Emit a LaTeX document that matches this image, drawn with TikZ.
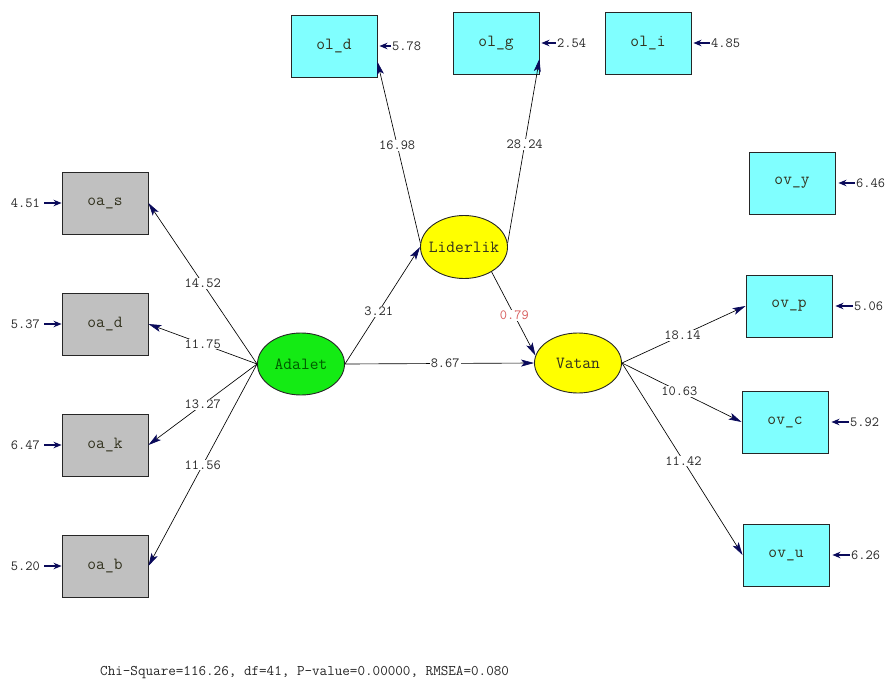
\documentclass[tikz,border=0pt]{standalone}
\usepackage{fontspec}
\usetikzlibrary{arrows.meta,shapes.geometric}
\definecolor{boxcyan}{RGB}{128,255,255}
\definecolor{boxgray}{RGB}{192,192,192}
\definecolor{latgreen}{RGB}{20,235,20}
\definecolor{latyellow}{RGB}{255,255,0}
\definecolor{navyarrow}{RGB}{10,10,90}
\definecolor{labred}{RGB}{215,90,90}
\definecolor{txtgreen}{RGB}{0,90,0}
\definecolor{txtdark}{RGB}{50,50,30}
\tikzset{
  obs/.style={draw=black!85, line width=0.9pt, rectangle, minimum width=86pt, minimum height=62pt, inner sep=0pt, font=\ttfamily\fontsize{17}{19}\selectfont, text=txtdark},
  cyanbox/.style={obs, fill=boxcyan},
  graybox/.style={obs, fill=boxgray},
  latent/.style={draw=black!85, line width=0.9pt, ellipse, minimum width=87pt, minimum height=62pt, inner sep=0pt, font=\ttfamily\fontsize{17}{19}\selectfont},
  path/.style={draw=black, line width=0.65pt, -{Stealth[length=13pt,width=7pt,inset=3pt,color=navyarrow]}},
  elab/.style={fill=white, inner sep=1pt, font=\ttfamily\fontsize{14}{16}\selectfont, text=black!85},
  errlab/.style={inner sep=0pt, font=\ttfamily\fontsize{14}{16}\selectfont, text=black!85},
  errarrow/.style={draw=navyarrow, line width=1.4pt, -{Stealth[length=8pt,width=6.5pt]}}
}
\begin{document}
\begin{tikzpicture}[x=1pt,y=-1pt]
\path[use as bounding box] (0,0) rectangle (892,688);
% observed variables
\node[cyanbox] (old) at (334,46) {ol\_d};
\node[cyanbox] (olg) at (496,43) {ol\_g};
\node[cyanbox] (oli) at (648,43) {ol\_i};
\node[graybox] (oas) at (105,203) {oa\_s};
\node[graybox] (oad) at (105,324) {oa\_d};
\node[graybox] (oak) at (105,445) {oa\_k};
\node[graybox] (oab) at (105,566) {oa\_b};
\node[cyanbox] (ovy) at (792,183) {ov\_y};
\node[cyanbox] (ovp) at (789,306) {ov\_p};
\node[cyanbox] (ovc) at (785,422) {ov\_c};
\node[cyanbox] (ovu) at (786,555) {ov\_u};
% latent variables
\node[latent, fill=latgreen, text=txtgreen] (adalet) at (301,364) {\makebox[0pt]{Adalet}};
\node[latent, fill=latyellow, text=txtdark, minimum height=63pt] (lider) at (464,247) {\makebox[0pt]{Liderlik}};
\node[latent, fill=latyellow, text=txtdark, minimum height=60pt] (vatan) at (578,363) {\makebox[0pt]{Vatan}};
% paths
\draw[path] (adalet.west) -- node[elab,pos=0.5] {14.52} (oas.east);
\draw[path] (adalet.west) -- node[elab,pos=0.5] {11.75} (oad.east);
\draw[path] (adalet.west) -- node[elab,pos=0.5] {13.27} (oak.east);
\draw[path] (adalet.west) -- node[elab,pos=0.5] {11.56} (oab.east);
\draw[path] (adalet.east) -- node[elab,pos=0.45] {3.21} (lider.west);
\draw[path] (adalet.east) -- node[elab,pos=0.53] {8.67} (vatan.west);
\draw[path] (lider.175) -- node[elab,pos=0.54] {16.98} (old.-20);
\draw[path] (lider.5) -- node[elab,pos=0.535] {28.24} (olg.-20);
\draw[path] (lider.-42) -- node[elab,pos=0.52,text=labred] {0.79} (vatan.170);
\draw[path] (vatan.east) -- node[elab,pos=0.49] {18.14} (ovp.west);
\draw[path] (vatan.east) -- node[elab,pos=0.48] {10.63} (ovc.west);
\draw[path] (vatan.east) -- node[elab,pos=0.51] {11.42} (ovu.west);
% error terms
\node[errlab, anchor=east] (e1) at (40,203) {4.51};
\node[errlab, anchor=east] (e2) at (40,324) {5.37};
\node[errlab, anchor=east] (e3) at (40,445) {6.47};
\node[errlab, anchor=east] (e4) at (40,566) {5.20};
\draw[errarrow] (e1.east) ++(4,0) -- (oas.west);
\draw[errarrow] (e2.east) ++(4,0) -- (oad.west);
\draw[errarrow] (e3.east) ++(4,0) -- (oak.west);
\draw[errarrow] (e4.east) ++(4,0) -- (oab.west);
\node[errlab, anchor=west] (e5) at (392,46) {5.78};
\node[errlab, anchor=west] (e6) at (557,43) {2.54};
\node[errlab, anchor=west] (e7) at (711,43) {4.85};
\node[errlab, anchor=west] (e8) at (856,183) {6.46};
\node[errlab, anchor=west] (e9) at (854,306) {5.06};
\node[errlab, anchor=west] (e10) at (850,422) {5.92};
\node[errlab, anchor=west] (e11) at (851,555) {6.26};
\draw[errarrow] (e5.west) ++(-1,0) -- ([xshift=2pt]old.east);
\draw[errarrow] (e6.west) ++(-1,0) -- ([xshift=2pt]olg.east);
\draw[errarrow] (e7.west) ++(-1,0) -- ([xshift=2pt]oli.east);
\draw[errarrow] (e8.west) ++(-1,0) -- ([xshift=3pt]ovy.east);
\draw[errarrow] (e9.west) ++(-1,0) -- ([xshift=3pt]ovp.east);
\draw[errarrow] (e10.west) ++(-1,0) -- ([xshift=3pt]ovc.east);
\draw[errarrow] (e11.west) ++(-1,0) -- ([xshift=3pt]ovu.east);
% fit statistics
\node[anchor=west, inner sep=0pt, font=\ttfamily\fontsize{14.7}{16}\selectfont, text=black!85] (fit) at (100,673) {Chi-Square=116.26, df=41, P-value=0.00000, RMSEA=0.080};
\end{tikzpicture}
\end{document}
